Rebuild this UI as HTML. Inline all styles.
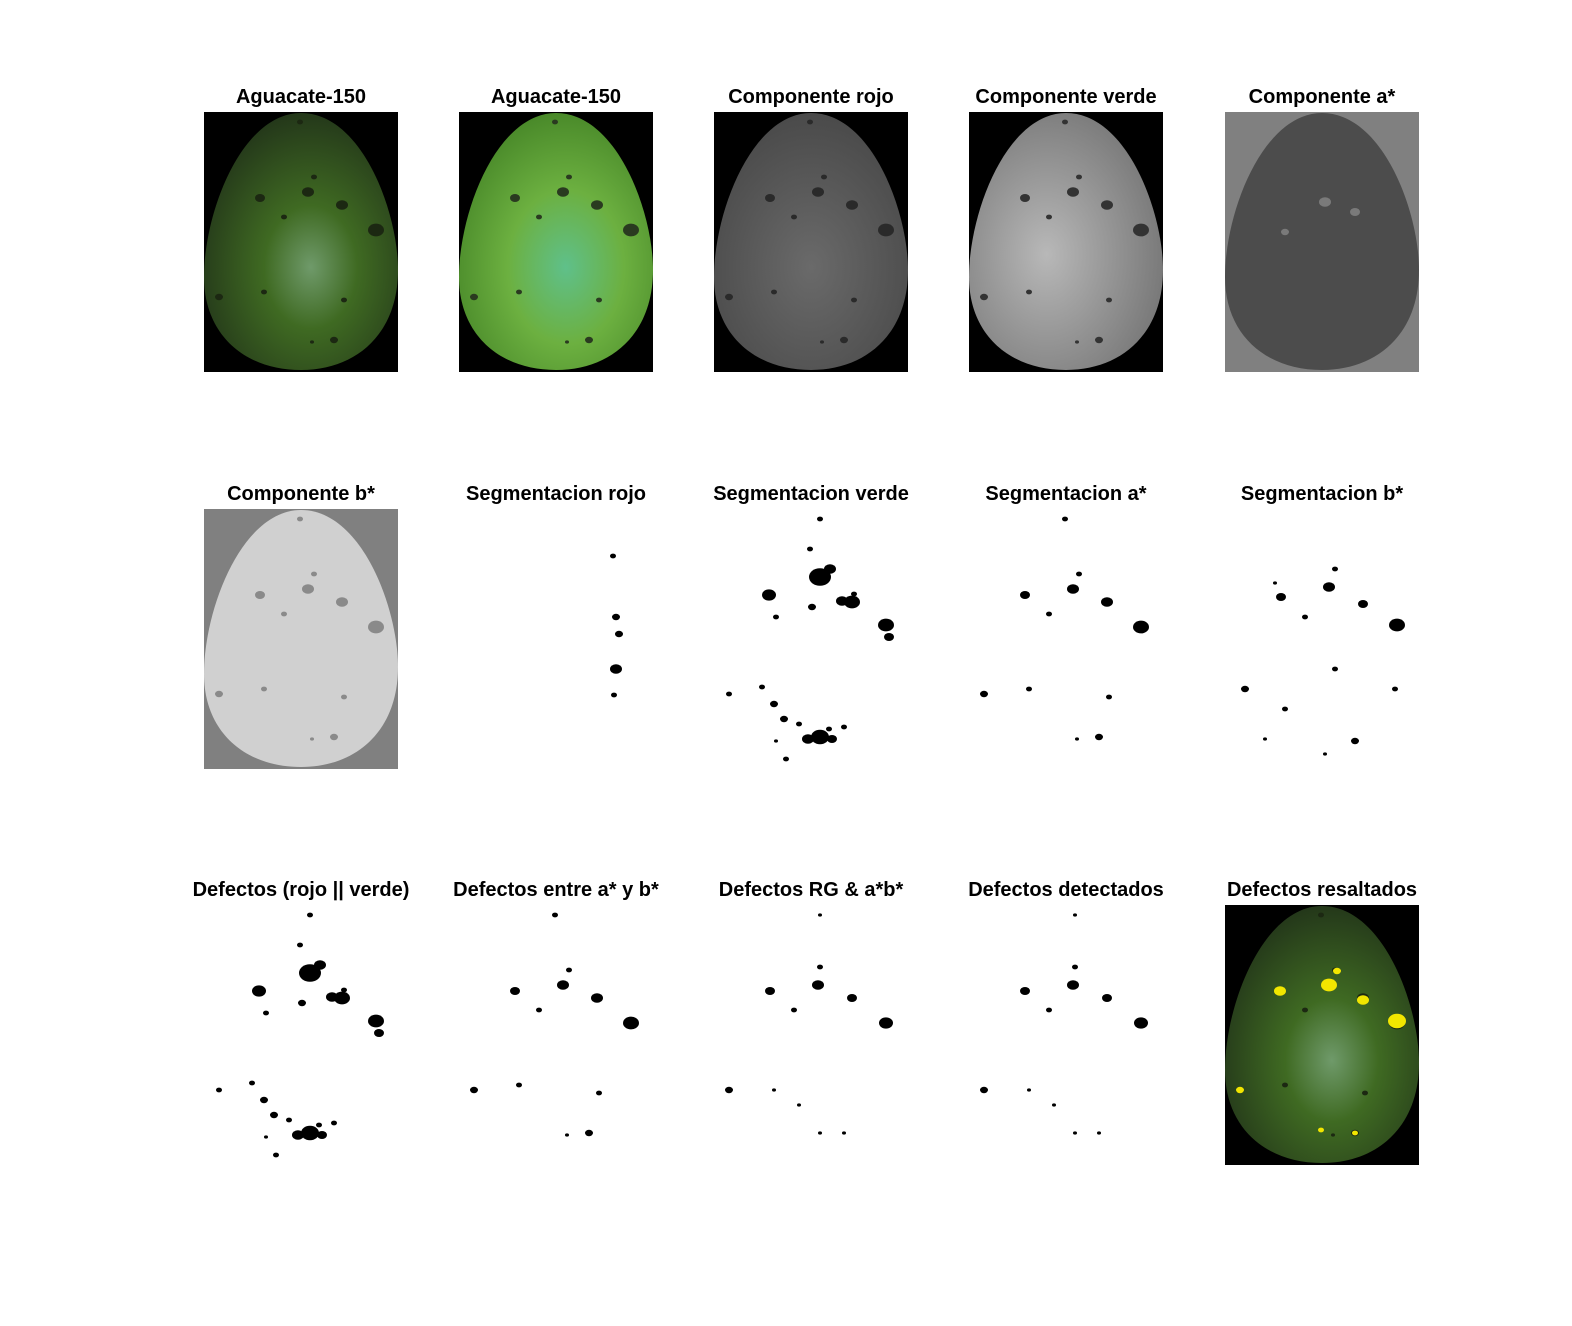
<!DOCTYPE html>
<html><head><meta charset="utf-8">
<style>
body{margin:0;background:#fff;width:1572px;height:1326px;position:relative;overflow:hidden;font-family:"Liberation Sans",sans-serif}
.t{position:absolute;font-weight:bold;font-size:20px;text-align:center;width:300px;color:#000;white-space:nowrap}
svg.p{position:absolute;width:194px;height:260px}
</style></head><body>
<svg width="0" height="0" style="position:absolute">
<defs>
<radialGradient id="gDark" cx="0.55" cy="0.6" r="0.6"><stop offset="0" stop-color="#6f9a6a"/><stop offset="0.4" stop-color="#3f6a22"/><stop offset="1" stop-color="#24381a"/></radialGradient>
<radialGradient id="gBright" cx="0.55" cy="0.6" r="0.6"><stop offset="0" stop-color="#5fc08a"/><stop offset="0.5" stop-color="#6cb040"/><stop offset="1" stop-color="#4a8a2a"/></radialGradient>
<radialGradient id="gRed" cx="0.5" cy="0.6" r="0.6"><stop offset="0" stop-color="#6a6a6a"/><stop offset="1" stop-color="#4a4a4a"/></radialGradient>
<radialGradient id="gGreen" cx="0.4" cy="0.55" r="0.6"><stop offset="0" stop-color="#b8b8b8"/><stop offset="1" stop-color="#7a7a7a"/></radialGradient>
</defs></svg>
<script>
const titles=[["Aguacate-150","Aguacate-150","Componente rojo","Componente verde","Componente a*"],
["Componente b*","Segmentacion rojo","Segmentacion verde","Segmentacion a*","Segmentacion b*"],
["Defectos (rojo || verde)","Defectos entre a* y b*","Defectos RG & a*b*","Defectos detectados","Defectos resaltados"]];
const colX=[204,459,714,969,1225];
const rowY=[112,509,905];
const EGG="M97,1 C158,1 194,100 194,158 C194,222 152,258 97,258 C40,258 0,222 0,165 C0,100 38,1 97,1 Z";
const spotsMain=[[106,68,11],[116,60,6],[55,86,7],[138,93,8],[128,92,6],[172,116,8],[175,128,5],[106,228,9],[94,230,6],[118,230,5],[96,40,3],[62,108,3],[98,98,4],[15,185,3],[48,178,3],[60,195,4],[70,210,4],[85,215,3],[115,220,3],[130,218,3],[62,232,2],[72,250,3],[140,85,3],[106,10,3]];
const spotsRed=[[154,47,3],[157,108,4],[160,125,4],[157,160,6],[155,186,3]];
const spotsAB=[[56,86,5],[104,80,6],[138,93,6],[172,118,8],[110,65,3],[80,105,3],[15,185,4],[60,180,3],[140,188,3],[130,228,4],[108,230,2],[96,10,3]];
const spotsDet=[[56,86,5],[104,80,6],[138,93,5],[172,118,7],[106,62,3],[80,105,3],[15,185,4],[60,185,2],[85,200,2],[106,228,2],[130,228,2],[106,10,2]];
const spotsB=[[56,88,5],[104,78,6],[138,95,5],[172,116,8],[110,60,3],[80,108,3],[50,74,2],[20,180,4],[110,160,3],[170,180,3],[60,200,3],[130,232,4],[100,245,2],[40,230,2]];
const yellow=[[55,86,6],[104,80,8],[112,66,4],[138,95,6],[172,116,9],[15,185,4],[96,225,3],[130,228,3]];
function mk(tag,a){const e=document.createElementNS("http://www.w3.org/2000/svg",tag);for(const k in a)e.setAttribute(k,a[k]);return e;}
function dots(svg,arr,col){arr.forEach(s=>{const c=mk("ellipse",{cx:s[0],cy:s[1],rx:s[2],ry:s[2]*0.8,fill:col});


svg.appendChild(c);});}
for(let r=0;r<3;r++)for(let c=0;c<5;c++){
 const d=document.createElement('div');d.className='t';
 d.style.left=(colX[c]+97-150)+'px';d.style.top=(rowY[r]-26)+'px';d.textContent=titles[r][c];
 
 
 document.body.appendChild(d);
 const s=mk("svg",{viewBox:"0 0 194 260",class:"p"});s.style.left=colX[c]+'px';s.style.top=rowY[r]+'px';
 
 
 const k=r*5+c;
 const bg=(col)=>s.appendChild(mk("rect",{x:0,y:0,width:194,height:260,fill:col}));
 const egg=(f)=>s.appendChild(mk("path",{d:EGG,fill:f}));
 if(k===0||k===14){bg("#000");egg("url(#gDark)");dots(s,spotsAB,"#1c2812");if(k===14)dots(s,yellow,"#f2e600");}
 else if(k===1){bg("#000");egg("url(#gBright)");dots(s,spotsAB,"#2a3a20");}
 else if(k===2){bg("#000");egg("url(#gRed)");dots(s,spotsAB,"#2a2a2a");}
 else if(k===3){bg("#000");egg("url(#gGreen)");dots(s,spotsAB,"#333");}
 else if(k===4){bg("#808080");egg("#4c4c4c");dots(s,[[100,90,6],[130,100,5],[60,120,4]],"#7a7a7a");}
 else if(k===5){bg("#808080");egg("#d0d0d0");dots(s,spotsAB,"#8a8a8a");}
 else if(k===6){dots(s,spotsRed,"#000");}
 else if(k===7||k===10){dots(s,spotsMain,"#000");}
 else if(k===8||k===11){dots(s,spotsAB,"#000");}
 else if(k===9){dots(s,spotsB,"#000");}
 else {dots(s,spotsDet,"#000");}
 document.body.appendChild(s);
}
</script>
</body></html>
